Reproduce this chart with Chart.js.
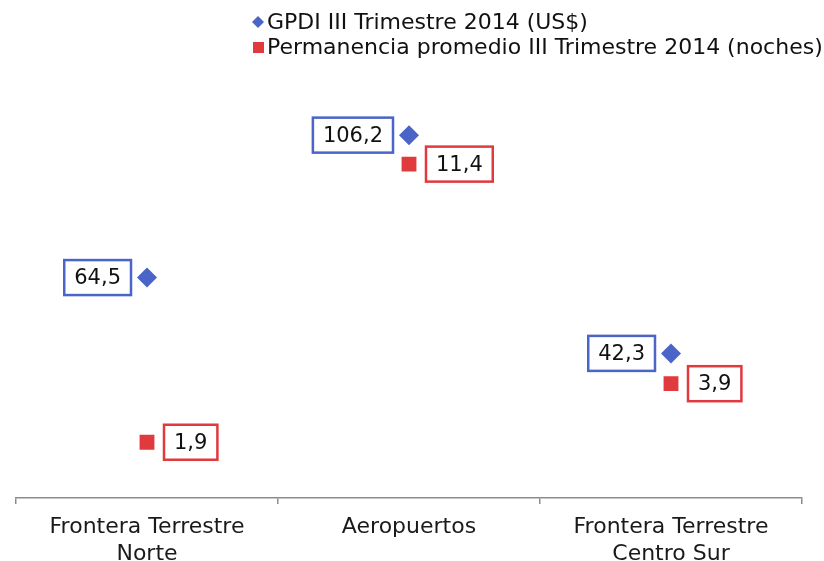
<!DOCTYPE html>
<html>
<head>
<meta charset="utf-8">
<script src="https://cdn.jsdelivr.net/npm/chart.js@4.4.0/dist/chart.umd.min.js"></script>
<style>
  html, body { margin: 0; padding: 0; background: #fff; overflow: hidden; }
  #wrap { width: 824px; height: 568px; }
</style>
</head>
<body>
<div id="wrap"><canvas id="chart"></canvas></div>
<script>
// ===== Data =====
const categories = [['Frontera Terrestre', 'Norte'], 'Aeropuertos', ['Frontera Terrestre', 'Centro Sur']];
const gpdiLabel = 'GPDI III Trimestre 2014 (US$)';
const gpdiValues = [64.5, 106.2, 42.3];
const permLabel = 'Permanencia promedio III Trimestre 2014 (noches)';
const permValues = [1.9, 11.4, 3.9];

const BLUE = '#4a64c8';
const RED = '#e0393e';
const FONT = '"DejaVu Sans", Verdana, sans-serif';

const fmt = v => v.toFixed(1).replace('.', ',');

// ===== Boxed value labels =====
const boxLabels = {
    id: 'boxLabels',
    afterDatasetsDraw(chart) {
        const ctx = chart.ctx;
        ctx.save();
        ctx.font = '21px ' + FONT;
        ctx.textBaseline = 'middle';
        chart.data.datasets.forEach((ds, i) => {
            const meta = chart.getDatasetMeta(i);
            meta.data.forEach((pt, j) => {
                const text = fmt(ds.data[j]);
                const w = ctx.measureText(text).width + 20;
                const h = 35;
                const x = i === 0 ? pt.x - 16 - w : pt.x + 17;
                const y = pt.y - h / 2;
                ctx.fillStyle = '#fff';
                ctx.fillRect(x, y, w, h);
                ctx.lineWidth = 2.5;
                ctx.strokeStyle = ds.borderColor;
                ctx.strokeRect(x, y, w, h);
                ctx.fillStyle = '#111';
                ctx.textAlign = 'center';
                ctx.fillText(text, x + w / 2, pt.y + 1);
            });
        });
        ctx.restore();
    }
};

// ===== Legend (two rows, top) =====
const topLegend = {
    id: 'topLegend',
    afterDraw(chart) {
        const ctx = chart.ctx;
        ctx.save();
        ctx.font = '22px ' + FONT;
        ctx.textBaseline = 'middle';
        ctx.textAlign = 'left';
        const x = 258;
        // diamond
        ctx.fillStyle = BLUE;
        ctx.beginPath();
        ctx.moveTo(x, 16); ctx.lineTo(x + 6, 22); ctx.lineTo(x, 28); ctx.lineTo(x - 6, 22);
        ctx.closePath(); ctx.fill();
        ctx.fillStyle = '#111';
        ctx.fillText(gpdiLabel, x + 9, 23);
        // square
        ctx.fillStyle = RED;
        ctx.fillRect(x - 5, 42, 11, 11);
        ctx.fillStyle = '#111';
        ctx.fillText(permLabel, x + 9, 48);
        ctx.restore();
    }
};

new Chart(document.getElementById('chart'), {
    type: 'line',
    data: {
        labels: categories,
        datasets: [{
            label: gpdiLabel,
            data: gpdiValues,
            yAxisID: 'y',
            showLine: false,
            pointStyle: 'rectRot',
            pointRadius: 10,
            pointHoverRadius: 10,
            backgroundColor: BLUE,
            borderColor: BLUE,
            borderWidth: 0
        }, {
            label: permLabel,
            data: permValues,
            yAxisID: 'y2',
            showLine: false,
            pointStyle: 'rect',
            pointRadius: 10.5,
            pointHoverRadius: 10.5,
            backgroundColor: RED,
            borderColor: RED,
            borderWidth: 0
        }]
    },
    options: {
        responsive: true,
        maintainAspectRatio: false,
        animation: false,
        layout: { padding: { top: 88, left: 16, right: 22, bottom: -10 } },
        plugins: {
            legend: { display: false },
            tooltip: { enabled: false }
        },
        scales: {
            x: {
                offset: true,
                grid: { offset: true, drawOnChartArea: false, tickLength: 6, color: '#8c8c8c', lineWidth: 1.5 },
                border: { color: '#8c8c8c', width: 1.5 },
                ticks: { color: '#1a1a1a', font: { family: FONT, size: 22, lineHeight: 1.23 }, padding: 10, maxRotation: 0 }
            },
            y: { display: false, min: 0, max: 120 },
            y2: { display: false, min: 0, max: 14 }
        }
    },
    plugins: [boxLabels, topLegend]
});
</script>
</body>
</html>
